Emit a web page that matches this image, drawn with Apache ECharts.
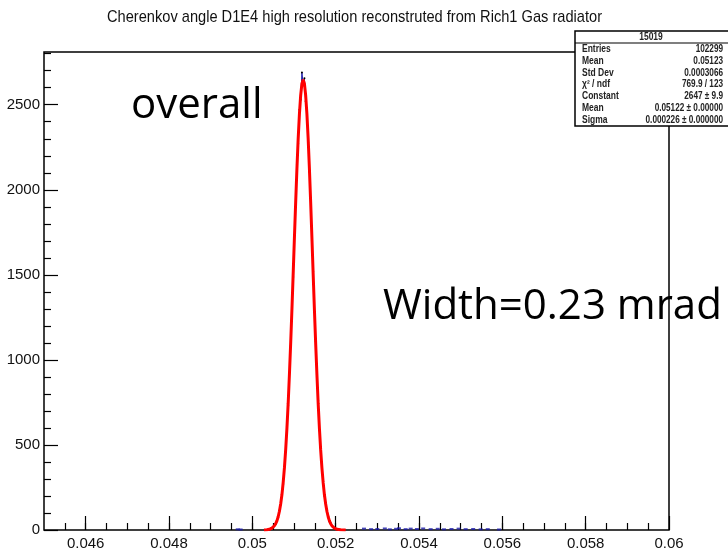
<!doctype html>
<html>
<head>
<meta charset="utf-8">
<title>Cherenkov angle D1E4</title>
<script src="https://cdn.jsdelivr.net/npm/echarts@6.0.0/dist/echarts.min.js"></script>
<style>
  html, body { margin: 0; padding: 0; background: #fff; }
  #chart { width: 728px; height: 553px; }
</style>
</head>
<body>
<div id="chart"></div>
<script>
// histogram around the peak (bin centre, counts)
var histX = [0.05041, 0.05044, 0.05047, 0.05050, 0.05053, 0.05056, 0.05059, 0.05062, 0.05065, 0.05068,
             0.05071, 0.05074, 0.05077, 0.05080, 0.05083, 0.05086, 0.05089, 0.05092, 0.05095, 0.05098,
             0.05101, 0.05104, 0.05107, 0.05110, 0.05113, 0.05116, 0.05119, 0.05122, 0.05125, 0.05128,
             0.05131, 0.05134, 0.05137, 0.05140, 0.05143, 0.05146, 0.05149, 0.05152, 0.05155, 0.05158,
             0.05161, 0.05164, 0.05167, 0.05170, 0.05173, 0.05176, 0.05179, 0.05182, 0.05185, 0.05188,
             0.05191, 0.05194, 0.05197, 0.05200, 0.05203];
var histY = [3, 9, 12, 14, 28, 35, 58, 74, 115, 148,
             212, 271, 372, 462, 608, 731, 925, 1082, 1310, 1488,
             1735, 1902, 2150, 2270, 2470, 2530, 2690, 2620, 2655, 2520,
             2460, 2280, 2105, 1950, 1700, 1520, 1280, 1110, 900, 760,
             585, 480, 355, 285, 200, 158, 105, 82, 50, 39,
             22, 18, 9, 6, 3];

// scattered entries far from the peak
var tailX = [0.04965, 0.04972, 0.05268, 0.05285, 0.05300, 0.05318, 0.05330, 0.05345, 0.05352, 0.05368,
             0.05380, 0.05395, 0.05410, 0.05428, 0.05445, 0.05460, 0.05478, 0.05495, 0.05512, 0.05530,
             0.05548, 0.05565, 0.05592];
var tailY = [4, 3, 8, 5, 6, 9, 4, 7, 10, 5,
             8, 6, 9, 5, 7, 4, 6, 8, 5, 6,
             4, 5, 3];

// gaussian fit curve as drawn
var fitX = [0.05028, 0.05035, 0.05041, 0.05044, 0.05047, 0.05050, 0.05053, 0.05056, 0.05059, 0.05062,
            0.05065, 0.05068, 0.05071, 0.05074, 0.05077, 0.05080, 0.05083, 0.05086, 0.05089, 0.05092,
            0.05095, 0.05098, 0.05101, 0.05104, 0.05107, 0.05110, 0.05113, 0.05116, 0.05119, 0.05122,
            0.05125, 0.05128, 0.05131, 0.05134, 0.05137, 0.05140, 0.05143, 0.05146, 0.05149, 0.05152,
            0.05155, 0.05158, 0.05161, 0.05164, 0.05167, 0.05170, 0.05173, 0.05176, 0.05179, 0.05182,
            0.05185, 0.05188, 0.05191, 0.05194, 0.05197, 0.05200, 0.05203, 0.05212, 0.05224];
var fitY = [0, 1, 4, 7, 11, 16, 25, 37, 54, 78,
            110, 153, 207, 278, 365, 471, 597, 744, 914, 1097,
            1295, 1504, 1718, 1926, 2123, 2299, 2445, 2555, 2624, 2647,
            2624, 2555, 2445, 2299, 2123, 1926, 1718, 1504, 1295, 1097,
            914, 744, 597, 471, 365, 278, 207, 153, 110, 78,
            54, 37, 25, 16, 11, 7, 4, 1, 0];

// axis ticks and labels
var xLabelValues = [0.046, 0.048, 0.050, 0.052, 0.054, 0.056, 0.058, 0.060];
var xMinorValues = [0.0455, 0.0460, 0.0465, 0.0470, 0.0475, 0.0480, 0.0485, 0.0490, 0.0495, 0.0500,
                    0.0505, 0.0510, 0.0515, 0.0520, 0.0525, 0.0530, 0.0535, 0.0540, 0.0545, 0.0550,
                    0.0555, 0.0560, 0.0565, 0.0570, 0.0575, 0.0580, 0.0585, 0.0590, 0.0595];
var yLabelValues = [0, 500, 1000, 1500, 2000, 2500];
var yMinorValues = [100, 200, 300, 400, 600, 700, 800, 900, 1100, 1200, 1300, 1400, 1600, 1700, 1800, 1900,
                    2100, 2200, 2300, 2400, 2600, 2700, 2800];

// stats box
var statsName = '15019';
var statsKeys = ['Entries', 'Mean', 'Std Dev', 'χ² / ndf', 'Constant', 'Mean', 'Sigma'];
var statsVals = ['102299', '0.05123', '0.0003066', '769.9 / 123', '2647 ± 9.9', '0.05122 ± 0.00000', '0.000226 ± 0.000000'];

var titleText = 'Cherenkov angle D1E4 high resolution reconstruted from Rich1 Gas radiator';
var sans = "'Liberation Sans', Arial, sans-serif";
var X_MIN = 0.045, X_MAX = 0.06, Y_MAX = 2810;

function pairs(xs, ys) {
    return xs.map(function (x, i) { return [x, ys[i]]; });
}

// squeeze a text to a wanted width (the original uses a narrow font)
var ctx = document.createElement('canvas').getContext('2d');
function squeeze(text, font, wanted) {
    ctx.font = font;
    return Math.min(1, wanted / ctx.measureText(text).width);
}

var titleFont = '17px ' + sans;
var statFont = 'bold 10px ' + sans;
var statsGraphic = [
    { type: 'rect', shape: { x: 575, y: 31, width: 160, height: 95 },
      style: { fill: '#fff', stroke: '#000', lineWidth: 1.5 }, z: 100 },
    { type: 'line', shape: { x1: 575, y1: 43, x2: 735, y2: 43 },
      style: { stroke: '#000', lineWidth: 1.2 }, z: 101 },
    { type: 'text', x: 651, y: 37, z: 101, scaleX: 0.85,
      style: { text: statsName, font: statFont, fill: '#222', align: 'center', verticalAlign: 'middle' } }
];
statsKeys.forEach(function (k, i) {
    var y = 49 + i * 11.9;
    statsGraphic.push({ type: 'text', x: 582, y: y, z: 101, scaleX: 0.85,
        style: { text: k, font: statFont, fill: '#222', align: 'left', verticalAlign: 'middle' } });
    statsGraphic.push({ type: 'text', x: 723, y: y, z: 101, scaleX: 0.82,
        style: { text: statsVals[i], font: statFont, fill: '#222', align: 'right', verticalAlign: 'middle' } });
});

var chart = echarts.init(document.getElementById('chart'));
var option = {
    animation: false,
    backgroundColor: '#fff',
    grid: { left: 44, right: 59, top: 52, bottom: 23, show: true, borderColor: '#000', borderWidth: 1.5,
            containLabel: false, outerBoundsMode: 'none' },
    xAxis: [{
        type: 'value', min: X_MIN, max: X_MAX,
        axisLine: { show: false }, splitLine: { show: false },
        axisTick: { show: true, inside: true, length: 14, customValues: xLabelValues, lineStyle: { color: '#000', width: 1.2 } },
        axisLabel: { customValues: xLabelValues, margin: 6, fontFamily: sans, fontSize: 15, color: '#111',
                     formatter: function (v) { return String(parseFloat(v.toFixed(4))); } }
    }, {
        type: 'value', min: X_MIN, max: X_MAX, position: 'bottom',
        axisLine: { show: false }, splitLine: { show: false },
        axisTick: { show: true, inside: true, length: 7, customValues: xMinorValues, lineStyle: { color: '#000', width: 1.2 } },
        axisLabel: { show: false }
    }],
    yAxis: [{
        type: 'value', min: 0, max: Y_MAX,
        axisLine: { show: false }, splitLine: { show: false },
        axisTick: { show: true, inside: true, length: 14, customValues: yLabelValues, lineStyle: { color: '#000', width: 1.2 } },
        axisLabel: { customValues: yLabelValues, margin: 4, fontFamily: sans, fontSize: 15, color: '#111',
                     formatter: function (v) { return String(v); } }
    }, {
        type: 'value', min: 0, max: Y_MAX, position: 'left',
        axisLine: { show: false }, splitLine: { show: false },
        axisTick: { show: true, inside: true, length: 7, customValues: yMinorValues, lineStyle: { color: '#000', width: 1.2 } },
        axisLabel: { show: false }
    }],
    series: [{
        type: 'line', name: 'hist', data: pairs(histX, histY),
        symbol: 'circle', symbolSize: 2, showSymbol: true,
        lineStyle: { color: '#1c1ca8', width: 1 },
        itemStyle: { color: '#000' }, z: 2
    }, {
        type: 'scatter', name: 'tail', data: pairs(tailX, tailY),
        symbol: 'rect', symbolSize: [4, 2],
        itemStyle: { color: '#1c1ca8' }, z: 2
    }, {
        type: 'line', name: 'fit', data: pairs(fitX, fitY),
        showSymbol: false, smooth: false,
        lineStyle: { color: '#ff0000', width: 3 }, z: 3
    }],
    graphic: statsGraphic.concat([
        { type: 'text', x: 107, y: 17, z: 50, scaleX: squeeze(titleText, titleFont, 495),
          style: { text: titleText, font: titleFont, fill: '#111', align: 'left', verticalAlign: 'middle' } },
        { type: 'text', x: 131, y: 127, z: 50,
          style: { text: 'overall', font: '42px "Open Sans"', fill: '#000', align: 'left', verticalAlign: 'bottom' } },
        { type: 'text', x: 383, y: 307, z: 50,
          style: { text: 'Width=0.23 mrad', font: '42px "Open Sans"', fill: '#000', align: 'left', verticalAlign: 'middle' } }
    ])
};
chart.setOption(option);
</script>
</body>
</html>
